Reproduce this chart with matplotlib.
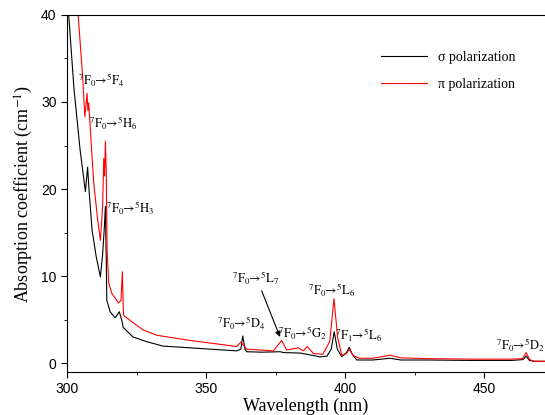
import numpy as np
import matplotlib
matplotlib.use("Agg")
import matplotlib.pyplot as plt
from matplotlib.ticker import MultipleLocator

plt.rcParams['mathtext.fontset'] = 'stix'

# sigma polarization (black)
wl_sigma = [299.8, 300.6, 302.5, 304.7, 306.6, 307.4, 308.0, 309.0, 310.5, 312.0,
            312.8, 313.4, 313.8, 314.1, 314.3, 315.5, 317.3, 318.8, 319.7, 320.2,
            323.7, 328.7, 334.5, 344.2, 356.0, 361.0, 362.5, 363.2, 364.0, 364.6,
            370.0, 376.6, 378.0, 383.8, 388.0, 391.0, 393.5, 395.0, 396.1, 397.2,
            398.8, 400.5, 401.5, 402.6, 404.2, 410.0, 416.2, 420.0, 430.0, 445.0,
            460.0, 464.0, 465.1, 466.3, 468.0, 472.0]
ab_sigma = [41.0, 40.0, 31.5, 24.5, 19.7, 22.5, 19.5, 15.3, 12.2, 9.9,
            12.5, 15.5, 18.0, 12.0, 7.2, 5.9, 5.2, 5.9, 4.9, 4.1,
            3.0, 2.45, 1.95, 1.75, 1.5, 1.4, 1.6, 3.1, 1.6, 1.3,
            1.25, 1.3, 1.2, 1.15, 0.9, 0.7, 0.8, 1.6, 3.6, 1.6,
            0.73, 1.2, 1.8, 1.0, 0.35, 0.35, 0.55, 0.35, 0.35, 0.3,
            0.3, 0.4, 0.8, 0.3, 0.2, 0.2]

# pi polarization (red)
wl_pi = [303.5, 304.0, 305.6, 306.4, 307.2, 307.5, 307.8, 309.0, 309.6, 311.0,
         312.0, 312.8, 313.2, 313.5, 313.8, 314.1, 314.4, 315.0, 316.1, 318.5,
         319.4, 319.9, 320.3, 323.9, 327.4, 332.2, 344.2, 356.2, 361.0, 362.5,
         364.6, 374.2, 377.2, 379.0, 383.2, 385.0, 386.4, 388.6, 392.0, 394.5,
         396.0, 397.3, 398.8, 400.5, 401.5, 402.8, 405.0, 410.0, 416.2, 420.0,
         430.0, 445.0, 460.0, 463.8, 465.1, 466.4, 468.0, 472.0]
ab_pi = [42.0, 40.0, 33.0, 28.3, 31.0, 29.0, 29.9, 23.7, 20.7, 16.5,
         14.1, 18.0, 23.5, 21.5, 25.5, 22.0, 13.0, 9.2, 8.0, 6.9,
         7.2, 10.5, 5.5, 4.6, 3.8, 3.2, 2.6, 2.1, 1.9, 2.4,
         1.6, 1.4, 2.6, 1.5, 1.75, 1.4, 1.9, 1.1, 1.0, 2.5,
         7.4, 3.0, 0.9, 1.1, 1.6, 0.9, 0.55, 0.55, 0.9, 0.6,
         0.5, 0.45, 0.45, 0.5, 1.2, 0.4, 0.2, 0.2]


def term(a, b, c, d, e):
    return (r'$^{%s}\mathrm{%s}_{%s}\!\!\rightarrow\!{}^{%s}\mathrm{%s}_{%s}$'
            % (a, b, c, d, e[0], e[1]))


# transition labels: (text, wavelength, absorption)
labels = [
    (term('7', 'F', '0', '5', 'F4'), 312.3, 32.5),
    (term('7', 'F', '0', '5', 'H6'), 316.5, 27.6),
    (term('7', 'F', '0', '5', 'H3'), 322.7, 17.8),
    (term('7', 'F', '0', '5', 'D4'), 362.6, 4.6),
    (term('7', 'F', '0', '5', 'L7'), 367.9, 9.8),
    (term('7', 'F', '0', '5', 'G2'), 384.5, 3.4),
    (term('7', 'F', '0', '5', 'L6'), 395.0, 8.4),
    (term('7', 'F', '1', '5', 'L6'), 405.0, 3.2),
    (term('7', 'F', '0', '5', 'D2'), 463.0, 2.1),
]
# arrow pointing to the 5L7 peak
arrow_tail = (370.0, 8.3)
arrow_head = (376.6, 3.0)

fig = plt.figure(figsize=(5.45, 4.15), dpi=100)
ax = fig.add_axes([0.123, 0.1036, 0.877, 0.8603])

ax.plot(wl_sigma, ab_sigma, color='black', lw=0.8, label='σ polarization')
ax.plot(wl_pi, ab_pi, color='red', lw=0.8, label='π polarization')

for txt, x, y in labels:
    ax.text(x, y, txt, fontsize=9, ha='center', va='center')

ax.annotate('', xy=arrow_head, xytext=arrow_tail,
            arrowprops=dict(arrowstyle='-|>', color='black', lw=0.8,
                            mutation_scale=8, shrinkA=0, shrinkB=0))

ax.set_xlim(300, 471.9)
ax.set_ylim(-1.03, 40)
ax.xaxis.set_major_locator(MultipleLocator(50))
ax.xaxis.set_minor_locator(MultipleLocator(25))
ax.yaxis.set_major_locator(MultipleLocator(10))
ax.yaxis.set_minor_locator(MultipleLocator(5))
ax.tick_params(which='both', direction='out', labelsize=10)
ax.tick_params(which='major', length=4)
ax.tick_params(which='minor', length=2.5)
for lab in ax.get_xticklabels() + ax.get_yticklabels():
    lab.set_family('Liberation Sans')
ax.spines['right'].set_visible(False)

ax.set_xlabel('Wavelength (nm)', family='Liberation Serif', fontsize=13, labelpad=1)
ax.set_ylabel('Absorption coefficient (cm$^{-1}$)', family='Liberation Serif',
              fontsize=13, labelpad=4)

ax.legend(loc='upper right', bbox_to_anchor=(0.965, 0.935), frameon=False,
          prop={'family': 'Liberation Serif', 'size': 10}, handlelength=3.3,
          labelspacing=1.0)

fig.savefig('out.png', dpi=100)
